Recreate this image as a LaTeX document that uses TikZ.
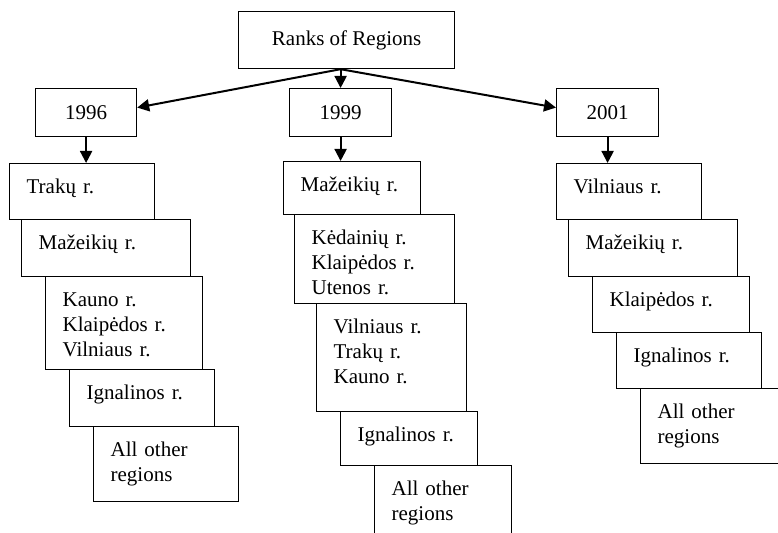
\documentclass[tikz,border=0pt]{standalone}
\usepackage{fontspec}
\setmainfont{Liberation Serif}
\usetikzlibrary{arrows.meta}

\newcommand{\rankfont}{\fontsize{10.5}{12.5}\selectfont}

\tikzset{
  yearbox/.style={draw, line width=0.6pt, anchor=north west, inner sep=0pt,
    minimum height=24pt, font=\rankfont},
  rankbox/.style={draw, line width=0.6pt, anchor=north west, align=left,
    inner xsep=8.5pt, inner ysep=0pt, text height=15pt, font=\rankfont},
  link/.style={line width=1pt, -{Triangle[length=6pt, width=6pt]}}
}

\begin{document}
\begin{tikzpicture}[x=0.5pt, y=-0.5pt]
  \useasboundingbox (0,0) rectangle (778,533);
  \node[yearbox, minimum width=108pt, minimum height=28.5pt] (ranks) at (238,11) {Ranks of Regions};
  \node[yearbox, minimum width=50.5pt] (y96) at (35,88) {1996};
  \node[yearbox, minimum width=51pt] (y99) at (289,88) {1999};
  \node[yearbox, minimum width=51pt] (y01) at (556,88) {2001};
  % stacked ranks, one column per year
  \foreach \n/\x/\y/\w/\d/\t in {
      a1/9/163/55.5/13/{Trakų r.},
      a2/21/219/67.5/13.5/{Mažeikių r.},
      a3/45/276/61.5/31.5/{Kauno r.\\Klaipėdos r.\\Vilniaus r.},
      a4/69/369/55.5/13.5/{Ignalinos r.},
      a5/93/426/55.5/22.5/{All other\\regions},
      b1/283/161/51.5/11.5/{Mažeikių r.},
      b2/294/214/63/29.5/{Kėdainių r.\\Klaipėdos r.\\Utenos r.},
      b3/316/303/58/39/{Vilniaus r.\\Trakų r.\\Kauno r.},
      b4/340/411/51.5/12/{Ignalinos r.},
      b5/374/465/51.5/25/{All other\\regions},
      c1/556/163/55.5/13/{Vilniaus r.},
      c2/568/219/67.5/13.5/{Mažeikių r.},
      c3/592/276/61.5/13/{Klaipėdos r.},
      c4/616/332/55.5/13/{Ignalinos r.},
      c5/640/388/55.5/22.5/{All other\\regions}}
    { \node[rankbox, text width=\w pt, text depth=\d pt] (\n) at (\x,\y) {\t}; }
  \coordinate (hub) at (ranks.south -| y99.north);
  \draw[link] (hub) -- ([yshift=2.5pt]y96.east);
  \draw[link] (hub) -- (y99.north);
  \draw[link] (hub) -- ([yshift=2.5pt]y01.west);
  \draw[link] (y96.south) -- (y96.south |- a1.north);
  \draw[link] (y99.south) -- (y99.south |- b1.north);
  \draw[link] (y01.south) -- (y01.south |- c1.north);
\end{tikzpicture}
\end{document}
